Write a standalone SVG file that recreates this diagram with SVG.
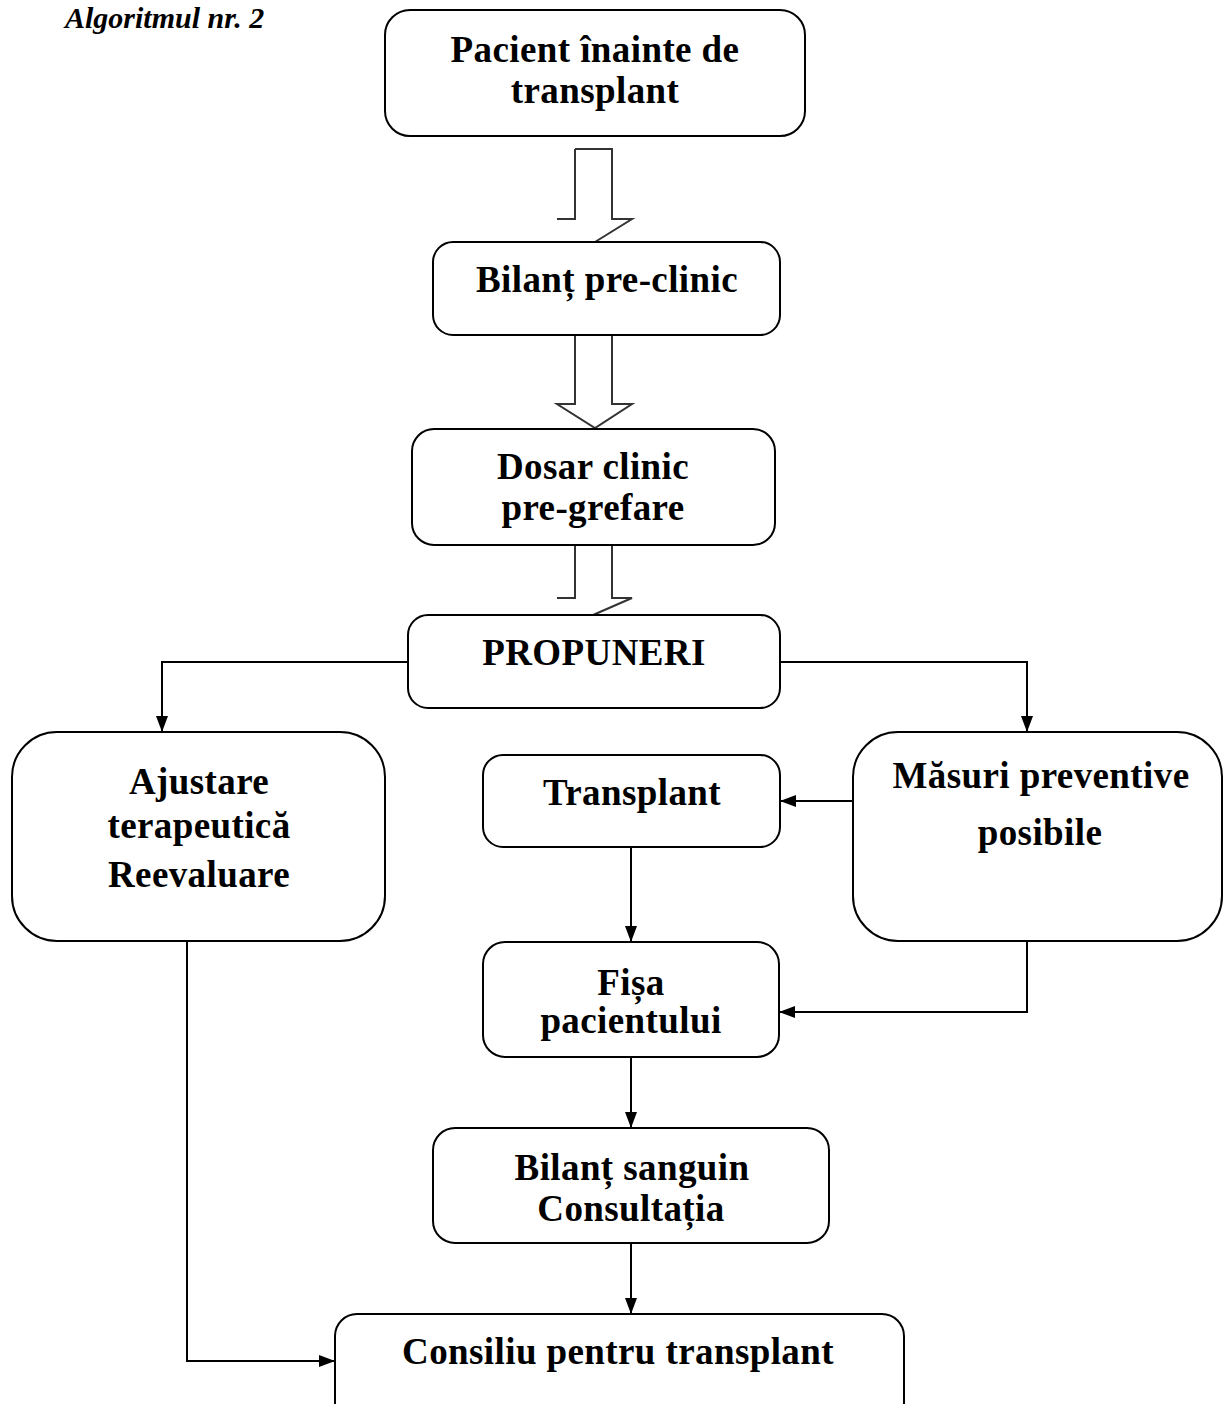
<svg xmlns="http://www.w3.org/2000/svg" width="1224" height="1404" viewBox="0 0 1224 1404">
<style>
.box{fill:#fff;stroke:#000;stroke-width:2}
.t{font-family:"Liberation Serif",serif;font-weight:bold;font-size:37px;letter-spacing:0.4px;text-anchor:middle;fill:#000}
.ttl{font-family:"Liberation Serif",serif;font-weight:bold;font-style:italic;font-size:30px;fill:#000}
.c{fill:none;stroke:#000;stroke-width:2}
.h{fill:#fff;stroke:#333;stroke-width:2}
</style>
<defs>
<marker id="ah" markerWidth="16" markerHeight="12" refX="16" refY="6" orient="auto" markerUnits="userSpaceOnUse" viewBox="0 0 16 12">
<path d="M0,0 L16,6 L0,12 Z" fill="#000"/>
</marker>
</defs>
<text class="ttl" x="65" y="28">Algoritmul nr. 2</text>
<g id="connectors">
<path class="h" d="M575,149 L612,149 L612,219 L632,219 L595,242 M575,149 L575,219 L557,219"/>
<path class="h" d="M575,335 L575,404 L557,404 L595,428 L632,404 L612,404 L612,335"/>
<path class="h" d="M575,545 L575,598 L557,598 M612,545 L612,598 L632,598 L593,615"/>
<path class="c" d="M408,662 L162,662 L162,732" marker-end="url(#ah)"/>
<path class="c" d="M780,662 L1027,662 L1027,732" marker-end="url(#ah)"/>
<path class="c" d="M853,801 L780,801" marker-end="url(#ah)"/>
<path class="c" d="M631,847 L631,942" marker-end="url(#ah)"/>
<path class="c" d="M1027,941 L1027,1012 L779,1012" marker-end="url(#ah)"/>
<path class="c" d="M631,1057 L631,1128" marker-end="url(#ah)"/>
<path class="c" d="M631,1243 L631,1314" marker-end="url(#ah)"/>
<path class="c" d="M187,941 L187,1361 L335,1361" marker-end="url(#ah)"/>
</g>
<g id="n1"><rect class="box" x="385" y="10" width="420" height="126" rx="25"/><text class="t" x="595" y="62">Pacient înainte de</text><text class="t" x="595" y="103">transplant</text></g>
<g id="n2"><rect class="box" x="433" y="242" width="347" height="93" rx="20"/><text class="t" x="607" y="292">Bilanț pre-clinic</text></g>
<g id="n3"><rect class="box" x="412" y="429" width="363" height="116" rx="22"/><text class="t" x="593" y="479">Dosar clinic</text><text class="t" x="593" y="520">pre-grefare</text></g>
<g id="n4"><rect class="box" x="408" y="615" width="372" height="93" rx="20"/><text class="t" x="594" y="665">PROPUNERI</text></g>
<g id="n5"><rect class="box" x="12" y="732" width="373" height="209" rx="45"/><text class="t" x="199" y="794">Ajustare</text><text class="t" x="199" y="838">terapeutică</text><text class="t" x="199" y="887">Reevaluare</text></g>
<g id="n6"><rect class="box" x="483" y="755" width="297" height="92" rx="20"/><text class="t" x="632" y="805">Transplant</text></g>
<g id="n7"><rect class="box" x="853" y="732" width="369" height="209" rx="45"/><text class="t" x="1041" y="788">Măsuri preventive</text><text class="t" x="1040" y="845">posibile</text></g>
<g id="n8"><rect class="box" x="483" y="942" width="296" height="115" rx="22"/><text class="t" x="631" y="995">Fișa</text><text class="t" x="631" y="1033">pacientului</text></g>
<g id="n9"><rect class="box" x="433" y="1128" width="396" height="115" rx="22"/><text class="t" x="632" y="1180">Bilanț sanguin</text><text class="t" x="631" y="1221">Consultația</text></g>
<g id="n10"><rect class="box" x="335" y="1314" width="569" height="110" rx="22"/><text class="t" x="618" y="1364">Consiliu pentru transplant</text></g>
</svg>
